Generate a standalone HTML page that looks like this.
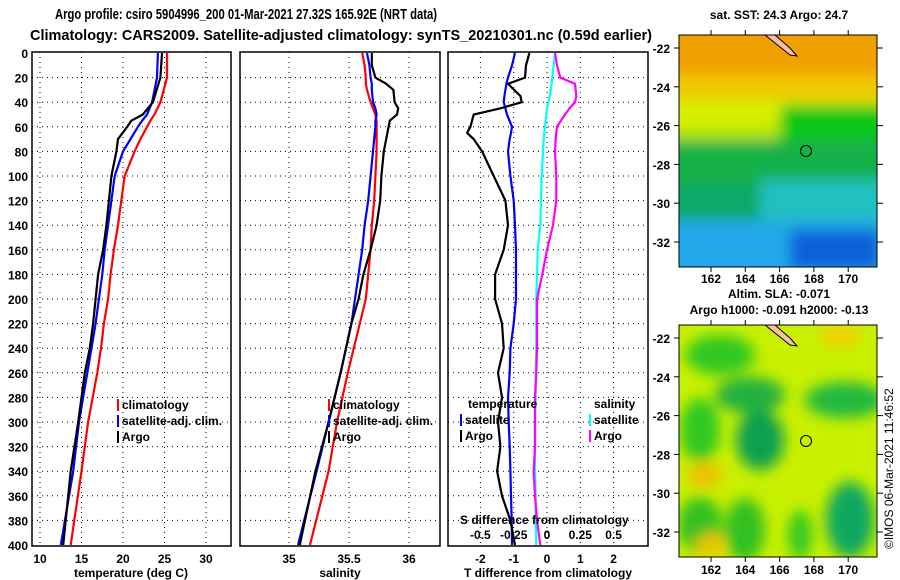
<!DOCTYPE html>
<html><head><meta charset="utf-8"><style>
html,body{margin:0;padding:0;background:#fff;}
svg{display:block;font-family:"Liberation Sans",sans-serif;}
.t{font-size:12px;font-weight:bold;}
.grid{stroke:#000;stroke-width:1;stroke-dasharray:1 4;}
</style></head><body>
<svg id="chart" width="900" height="580" viewBox="0 0 900 580" xmlns="http://www.w3.org/2000/svg">
<defs>
<filter id="blur" x="-10%" y="-10%" width="120%" height="120%"><feGaussianBlur stdDeviation="7"/></filter>
<clipPath id="clipA"><rect x="679" y="35" width="198" height="232"/></clipPath>
<clipPath id="clipB"><rect x="679" y="325" width="198" height="232"/></clipPath>
<clipPath id="c1"><rect x="32" y="52" width="199" height="494"/></clipPath>
<clipPath id="c2"><rect x="240" y="52" width="200" height="494"/></clipPath>
<clipPath id="c3"><rect x="448" y="52" width="200" height="494"/></clipPath>
</defs>
<text x="55" y="19" font-size="15" font-weight="bold" textLength="382" lengthAdjust="spacingAndGlyphs">Argo profile: csiro 5904996_200 01-Mar-2021 27.32S 165.92E (NRT data)</text>
<text x="30" y="40" font-size="15" font-weight="bold" textLength="622" lengthAdjust="spacingAndGlyphs">Climatology: CARS2009. Satellite-adjusted climatology: synTS_20210301.nc (0.59d earlier)</text>

<g id="p1"></g>
<g id="p2"></g>
<g id="p3"></g>

<g>
<g clip-path="url(#clipA)">
<rect x="679" y="35" width="198" height="232" fill="#10a860"/>
<g filter="url(#blur)">
<rect x="660" y="20" width="240" height="60" fill="#f0a000"/>
<rect x="660" y="75" width="240" height="30" fill="#f0c800"/>
<rect x="660" y="100" width="240" height="30" fill="#d8f000"/>
<rect x="660" y="125" width="120" height="20" fill="#b8e800"/>
<rect x="780" y="105" width="120" height="40" fill="#10c818"/>
<rect x="660" y="140" width="240" height="50" fill="#18b048"/>
<rect x="660" y="185" width="100" height="40" fill="#10a868"/>
<rect x="760" y="180" width="140" height="40" fill="#20c0c0"/>
<rect x="660" y="220" width="240" height="60" fill="#20a8e8"/>
<rect x="790" y="230" width="90" height="40" fill="#1060d8"/>
</g>
<path d="M765,35 L790,55 L797,56 L790,48 L775,35Z" fill="#f8c0a0" stroke="#000"/>
</g>
<rect x="679" y="35" width="198" height="232" fill="none" stroke="#000"/>
<circle cx="806" cy="151" r="5.5" fill="none" stroke="#000"/>
<text class="t" x="779" y="19" text-anchor="middle">sat. SST: 24.3 Argo: 24.7</text>
</g>
<g>
<g clip-path="url(#clipB)">
<rect x="679" y="325" width="198" height="232" fill="#c8f000"/>
<g filter="url(#blur)">
<ellipse cx="720" cy="355" rx="35" ry="20" fill="#30c820"/>
<ellipse cx="750" cy="395" rx="35" ry="18" fill="#20b040"/>
<ellipse cx="845" cy="400" rx="40" ry="18" fill="#20b840"/>
<ellipse cx="760" cy="440" rx="24" ry="30" fill="#10a050"/>
<ellipse cx="700" cy="430" rx="20" ry="32" fill="#30c820"/>
<ellipse cx="850" cy="520" rx="24" ry="38" fill="#10a860"/>
<ellipse cx="700" cy="525" rx="22" ry="28" fill="#30c020"/>
<ellipse cx="745" cy="530" rx="20" ry="32" fill="#30c020"/>
<ellipse cx="800" cy="535" rx="12" ry="25" fill="#30c820"/>
<ellipse cx="705" cy="475" rx="18" ry="12" fill="#f0c000"/>
<ellipse cx="710" cy="545" rx="14" ry="12" fill="#f0c000"/>
<ellipse cx="840" cy="335" rx="20" ry="12" fill="#f0d000"/>
</g>
<path d="M765,325 L790,345 L797,346 L790,338 L775,325Z" fill="#f8c0a0" stroke="#000"/>
</g>
<rect x="679" y="325" width="198" height="232" fill="none" stroke="#000"/>
<circle cx="806" cy="441" r="5.5" fill="none" stroke="#000"/>
<text class="t" x="779" y="298" text-anchor="middle">Altim. SLA: -0.071</text>
<text class="t" x="779" y="314" text-anchor="middle">Argo h1000: -0.091 h2000: -0.13</text>
</g>
<g id="maplabels"></g>
<text x="0" y="0" font-size="12" transform="translate(893,549) rotate(-90)">©IMOS 06-Mar-2021 11:46:52</text>
</svg>
<script>
// ---- data ----
const depthT = [0,20,40,50,55,60,70,80,100,120,140,160,180,200,220,240,260,300,340,400];
const tempClim = [25.3,25.3,24.5,23.8,23.3,22.9,22.1,21.4,20.2,19.8,19.4,18.9,18.5,18.2,17.7,17.35,16.9,15.8,15.0,13.7];
const tempSat  = [24.2,24.1,23.5,22.9,22.3,21.8,20.9,20.0,19.0,18.6,18.2,17.8,17.5,17.1,16.7,16.2,15.7,14.7,14.0,12.5];
const tempArgo = [24.7,24.5,23.6,22.4,21.0,20.5,19.4,19.2,18.6,18.3,18.0,17.6,17.0,16.7,16.4,16.0,15.4,14.6,13.7,12.8];
const depthS = [0,10,20,25,30,40,45,50,55,60,80,100,120,140,160,180,200,220,260,300,340,400];
const salClim = [35.61,35.63,35.64,35.64,35.65,35.68,35.70,35.72,35.73,35.73,35.73,35.72,35.71,35.69,35.68,35.66,35.64,35.59,35.49,35.40,35.33,35.175];
const salSat  = [35.65,35.67,35.68,35.69,35.69,35.70,35.72,35.73,35.72,35.72,35.70,35.68,35.66,35.63,35.61,35.58,35.55,35.52,35.43,35.33,35.23,35.075];
const salArgo = [35.69,35.69,35.72,35.81,35.87,35.88,35.91,35.90,35.84,35.83,35.79,35.77,35.76,35.73,35.68,35.62,35.58,35.52,35.43,35.33,35.22,35.09];
const depthD = [0,10,20,25,35,40,45,50,60,65,70,80,100,120,140,160,180,200,220,240,260,280,300,320,340,360,380,400];
const dTsat  = [-0.96,-1.05,-1.17,-1.22,-1.28,-1.3,-1.25,-1.2,-1.05,-1.08,-1.12,-1.17,-1.1,-1.0,-0.96,-0.93,-0.93,-0.93,-1.0,-1.1,-1.12,-1.17,-1.15,-1.12,-1.1,-1.08,-1.06,-1.05];
const dTargo = [-0.53,-0.63,-0.66,-1.17,-0.8,-0.76,-1.4,-2.2,-2.3,-2.4,-2.2,-1.95,-1.6,-1.25,-1.17,-1.3,-1.56,-1.56,-1.35,-1.3,-1.47,-1.35,-1.47,-1.4,-1.5,-1.35,-1.1,-0.96];
const dSsat  = [0.06,0.05,0.04,0.035,0.02,0.01,0.0,-0.005,-0.015,-0.02,-0.025,-0.03,-0.04,-0.045,-0.05,-0.07,-0.075,-0.08,-0.08,-0.08,-0.085,-0.085,-0.09,-0.09,-0.09,-0.085,-0.085,-0.08];
const dSargo = [0.06,0.075,0.1,0.21,0.22,0.21,0.17,0.135,0.075,0.07,0.065,0.06,0.07,0.07,0.045,0.0,-0.035,-0.075,-0.075,-0.075,-0.08,-0.09,-0.09,-0.09,-0.1,-0.09,-0.075,-0.05];
const depthTicks = [0,20,40,60,80,100,120,140,160,180,200,220,240,260,280,300,320,340,360,380,400];
const tTicks = [10,15,20,25,30];
const sTicks = [35,35.5,36];
const sTickLabels = ['35','35.5','36'];
const dTicks = [-2,-1,0,1,2];
const dsTicks = [-0.5,-0.25,0,0.25,0.5];
const dsTickLabels = ['-0.5','-0.25','0','0.25','0.5'];
const latTicks = [-22,-24,-26,-28,-30,-32];
const lonTicks = [162,164,166,168,170];

const NS = 'http://www.w3.org/2000/svg';
function mk(tag, attrs, parent){const e=document.createElementNS(NS,tag);for(const k in attrs)e.setAttribute(k,attrs[k]);parent.appendChild(e);return e;}
const yD = d => 53 + d*(492/400);
const xT = v => 40 + (v-10)*8.3;
const xS = v => 289 + (v-35)*120;
const xD = v => 547 + v*33.3;
const xDS = v => 547 + v*133.2;

function panel(g, x0, w, xTicksPx, labels, labelsY, title, titleX){
  for(const d of depthTicks){ if(d>0&&d<400){const l=mk('line',{x1:x0,x2:x0+w,y1:yD(d),y2:yD(d),class:'grid'},g);
    
    }}
  xTicksPx.forEach((px,i)=>{const l=mk('line',{x1:px,x2:px,y1:52,y2:546,class:'grid'},g);
    
    
    if(labels){const t=mk('text',{x:px,y:labelsY,class:'t','text-anchor':'middle'},g);t.textContent=labels[i];
    
    }});
  const r=mk('rect',{x:x0,y:52,width:w,height:494,fill:'none',stroke:'#000','stroke-width':1.5},g);
  
  
  const t=mk('text',{x:titleX,y:577,class:'t','text-anchor':'middle'},g);t.textContent=title;
  
  
}
function line(g, depths, vals, fx, color, clip, name){
  const d=depths.map((z,i)=>(i?'L':'M')+fx(vals[i]).toFixed(1)+','+yD(z).toFixed(1)).join(' ');
  const p=mk('path',{d:d,fill:'none',stroke:color,'stroke-width':2.2,'clip-path':'url(#'+clip+')'},g);
  
  
}
function legend(g, x, y, color, label, name){
  mk('line',{x1:x,x2:x,y1:y-10,y2:y+2,stroke:color,'stroke-width':2},g);
  const t=mk('text',{x:x+4,y:y,class:'t'},g);t.textContent=label;
  
  
}
const p1=document.getElementById('p1'),p2=document.getElementById('p2'),p3=document.getElementById('p3');
for(const d of depthTicks){const t=mk('text',{x:28,y:yD(d)+5,class:'t','text-anchor':'end'},p1);t.textContent=d;
  
  }
panel(p1,32,199,tTicks.map(xT),tTicks,563,'temperature (deg C)',131);
panel(p2,240,200,sTicks.map(xS),sTickLabels,563,'salinity',340);
panel(p3,448,200,dTicks.map(xD),dTicks,563,'T difference from climatology',548);
line(p1,depthT,tempClim,xT,'#f00','c1','temp-climatology-line');
line(p1,depthT,tempSat,xT,'#00f','c1','temp-satellite-line');
line(p1,depthT,tempArgo,xT,'#000','c1','temp-argo-line');
line(p2,depthS,salClim,xS,'#f00','c2','sal-climatology-line');
line(p2,depthS,salSat,xS,'#00f','c2','sal-satellite-line');
line(p2,depthS,salArgo,xS,'#000','c2','sal-argo-line');
line(p3,depthD,dTsat,xD,'#00f','c3','tdiff-satellite-line');
line(p3,depthD,dTargo,xD,'#000','c3','tdiff-argo-line');
line(p3,depthD,dSsat,xDS,'#0ff','c3','sdiff-satellite-line');
line(p3,depthD,dSargo,xDS,'#f0f','c3','sdiff-argo-line');
legend(p1,118,409,'#f00','climatology','legend-climatology');
legend(p1,118,425,'#00f','satellite-adj. clim.','legend-satellite');
legend(p1,118,441,'#000','Argo','legend-argo');
legend(p2,329,409,'#f00','climatology','legend-climatology-2');
legend(p2,329,425,'#00f','satellite-adj. clim.','legend-satellite-2');
legend(p2,329,441,'#000','Argo','legend-argo-2');
{const t=mk('text',{x:468,y:408,class:'t'},p3);t.textContent='temperature';
 
 
 const s=mk('text',{x:594,y:408,class:'t'},p3);s.textContent='salinity';
 
 
 const a=mk('text',{x:460,y:524,class:'t'},p3);a.textContent='S difference from climatology';
 
 }
legend(p3,461,424,'#00f','satellite','legend-t-satellite');
legend(p3,461,440,'#000','Argo','legend-t-argo');
legend(p3,590,424,'#0ff','satellite','legend-s-satellite');
legend(p3,590,440,'#f0f','Argo','legend-s-argo');
dsTicks.forEach((v,i)=>{const t=mk('text',{x:xDS(v),y:539,class:'t','text-anchor':'middle'},p3);t.textContent=dsTickLabels[i];
  
  });
const ml=document.getElementById('maplabels');
[[35,267,48,283],[325,557,338,574]].forEach(([top,bot,lat0,lonY])=>{
  latTicks.forEach((v,i)=>{const y=lat0+i*38.8;
    mk('line',{x1:877,x2:883,y1:y,y2:y,stroke:'#000'},ml);
    mk('line',{x1:679,x2:674,y1:y,y2:y,stroke:'#000'},ml);
    const t=mk('text',{x:670,y:y+5,class:'t','text-anchor':'end'},ml);t.textContent=v;
    
    });
  lonTicks.forEach((v,i)=>{const x=711+i*34.3;
    mk('line',{x1:x,x2:x,y1:top,y2:top-5,stroke:'#000'},ml);
    mk('line',{x1:x,x2:x,y1:bot,y2:bot+5,stroke:'#000'},ml);
    const t=mk('text',{x:x,y:lonY,class:'t','text-anchor':'middle'},ml);t.textContent=v;
    
    });
});
</script>
</body></html>
